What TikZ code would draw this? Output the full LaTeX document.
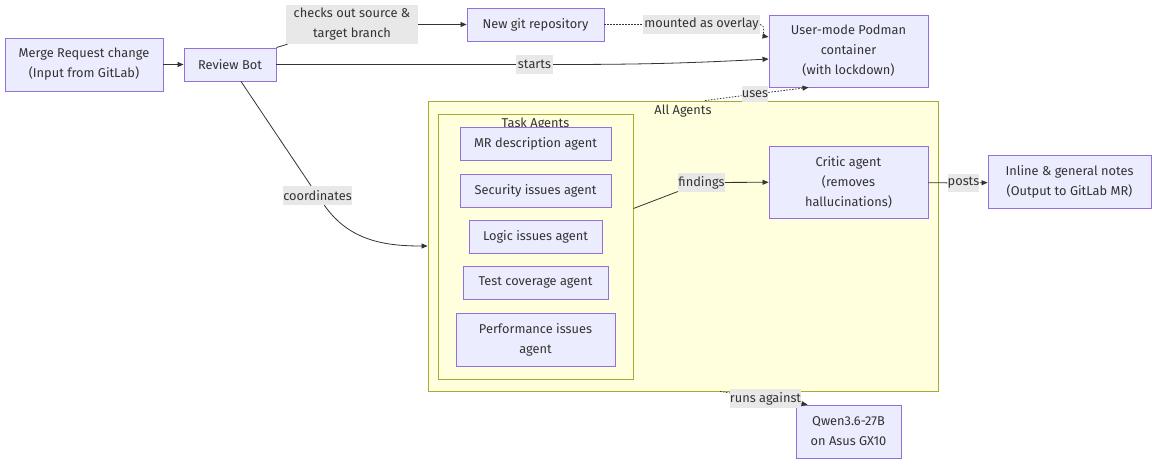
\documentclass[tikz,border=0pt]{standalone}
\usepackage{fontspec}
\setmainfont{Fira Sans}
\usepackage{xcolor}
\usepackage{tikz}
\usetikzlibrary{arrows.meta, positioning}
\definecolor{nodefill}{HTML}{ECECFF}
\definecolor{nodeline}{HTML}{9370DB}
\definecolor{clusterfill}{HTML}{FFFFDE}
\definecolor{clusterline}{HTML}{AAAA33}
\definecolor{labelfill}{HTML}{E8E8E8}
\definecolor{ink}{HTML}{333333}
\tikzset{
    box/.style={rectangle, draw=nodeline, fill=nodefill, line width=0.9pt, inner sep=0pt, align=center, text=ink},
    cluster/.style={rectangle, draw=clusterline, fill=clusterfill, line width=0.9pt, inner sep=0pt},
    title/.style={text=ink, inner sep=0pt},
    edgelabel/.style={rectangle, fill=labelfill, text=ink, inner sep=0pt, align=center},
    line/.style={draw=ink, line width=0.8pt},
    arrow/.style={line, -{Triangle[length=6pt, width=5pt]}},
    dots/.style={line, dash pattern=on 1.5pt off 1.5pt},
    dotarrow/.style={dots, -{Triangle[length=6pt, width=5pt]}}
}

\begin{document}
\begin{tikzpicture}[x=1pt, y=-1pt, font=\fontsize{12.8}{20}\selectfont]
            \useasboundingbox (0,0) rectangle (1152,464);

            % subgraphs
            \node (all) [cluster, minimum width=510pt, minimum height=290pt] at (683,246) {};
            \node (allT) [title] at (683,111) {All Agents};
            \node (task) [cluster, minimum width=195pt, minimum height=265pt] at (535.5,246.5) {};
            \node (taskT) [title] at (535.5,124) {Task Agents};

            % nodes
            \node (mr) [box, minimum width=158pt, minimum height=53pt] at (84,64.5) {Merge Request change\\(Input from GitLab)};
            \node (bot) [box, minimum width=92pt, minimum height=33pt] at (230,64.5) {Review Bot};
            \node (git) [box, minimum width=137pt, minimum height=33pt] at (535.5,24.5) {New git repository};
            \node (pod) [box, minimum width=159pt, minimum height=72pt] at (848.5,51) {User-mode Podman\\container\\(with lockdown)};
            \node (mrd) [box, minimum width=151pt, minimum height=33pt] at (535.5,143.5) {MR description agent};
            \node (sec) [box, minimum width=151pt, minimum height=33pt] at (535.5,190.5) {Security issues agent};
            \node (logic) [box, minimum width=133pt, minimum height=33pt] at (535.5,236.5) {Logic issues agent};
            \node (test) [box, minimum width=145pt, minimum height=33pt] at (535.5,282.5) {Test coverage agent};
            \node (perf) [box, minimum width=159pt, minimum height=53pt] at (535.5,339.5) {Performance issues\\agent};
            \node (critic) [box, minimum width=159pt, minimum height=72pt] at (848.5,182) {Critic agent\\(removes\\hallucinations)};
            \node (notes) [box, minimum width=163pt, minimum height=53pt] at (1069.5,181.5) {Inline \& general notes\\(Output to GitLab MR)};
            \node (qwen) [box, minimum width=105pt, minimum height=53pt] at (848.5,431.5) {Qwen3.6-27B\\on Asus GX10};

            % edge labels
            \node (lchk) [edgelabel, minimum width=132pt, minimum height=39pt] at (352,24.5) {checks out source \&\\target branch};
            \node (lmnt) [edgelabel, minimum width=117pt, minimum height=19pt] at (701.5,24.5) {mounted as overlay};
            \node (lsta) [edgelabel, minimum width=37pt, minimum height=19pt] at (534.5,64.5) {starts};
            \node (luse) [edgelabel, minimum width=24pt, minimum height=16pt] at (755,94) {uses};
            \node (lcoo) [edgelabel, minimum width=69pt, minimum height=19pt] at (317.5,195.5) {coordinates};
            \node (lfin) [edgelabel, minimum width=47pt, minimum height=19pt] at (701.5,182.5) {findings};
            \node (lpos) [edgelabel, minimum width=31pt, minimum height=18pt] at (963.5,183) {posts};
            \node (lrun) [edgelabel, minimum width=71pt, minimum height=19pt] at (765.5,398.5) {runs against};

            % connectors
            \draw[arrow] (mr) -- (bot);
            \draw[line] (bot.north east) -- (lchk);
            \draw[arrow] (lchk) -- (git);
            \draw[dots] (git) -- (lmnt);
            \draw[dotarrow] (lmnt.east) to[out=0, in=170] ([yshift=14pt]pod.west);
            \draw[line] (bot) -- (lsta);
            \draw[arrow] (lsta) to[out=0, in=183] ([yshift=-8pt]pod.west);
            \draw[dots] ([xshift=22pt]all.north) -- (luse);
            \draw[dotarrow] (luse) -- ([xshift=-40pt]pod.south);
            \draw[line] ([xshift=11pt]bot.south) -- (lcoo);
            \draw[arrow] (lcoo) to[out=-55, in=180] (all.west);
            \draw[line] ([yshift=38pt]task.east) -- (lfin);
            \draw[arrow] (lfin) -- (critic);
            \draw[line] (critic) -- (lpos);
            \draw[arrow] (lpos) -- (notes);
            \draw[dots] ([xshift=37pt]all.south) -- (lrun);
            \draw[dotarrow] (lrun) -- ([xshift=12pt]qwen.north west);
        \end{tikzpicture}
\end{document}
